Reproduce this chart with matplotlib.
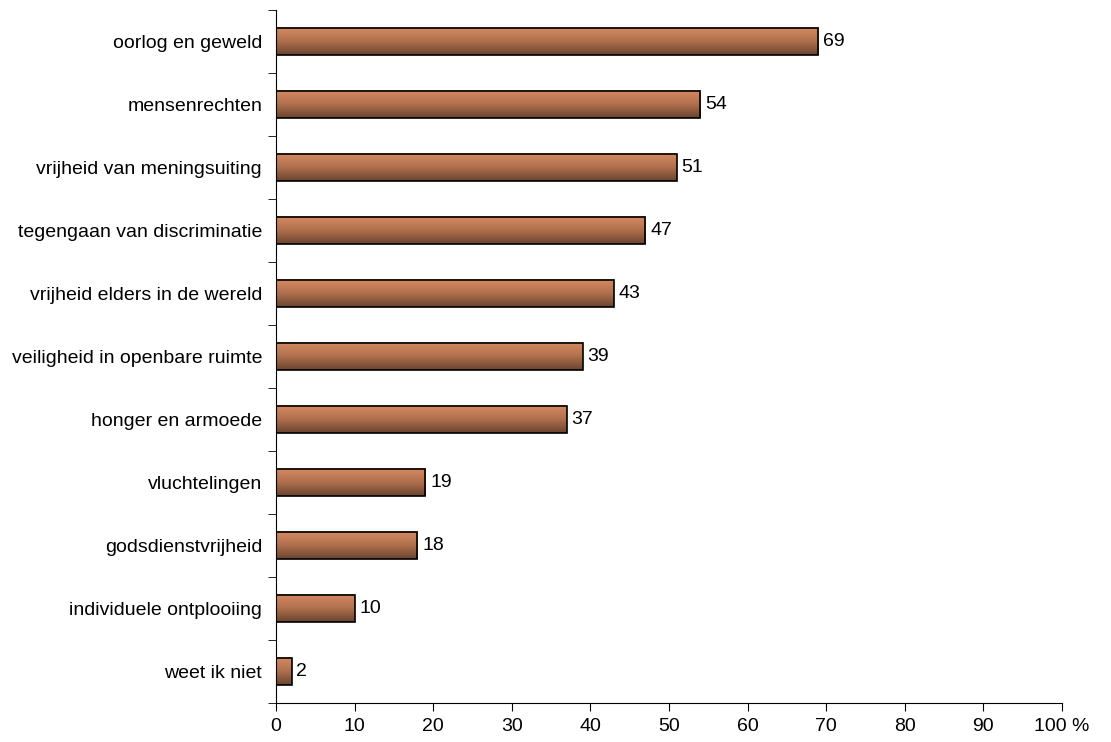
import numpy as np
import matplotlib.pyplot as plt
from matplotlib.colors import LinearSegmentedColormap

# Gegevens (van onder naar boven)
categorieen = ['weet ik niet', 'individuele ontplooiing', 'godsdienstvrijheid',
               'vluchtelingen', 'honger en armoede', 'veiligheid in openbare ruimte',
               'vrijheid elders in de wereld', 'tegengaan van discriminatie',
               'vrijheid van meningsuiting', 'mensenrechten', 'oorlog en geweld']
waarden = [2, 10, 18, 19, 37, 39, 43, 47, 51, 54, 69]
x_ticks = [0, 10, 20, 30, 40, 50, 60, 70, 80, 90, 100]
x_labels = ['0', '10', '20', '30', '40', '50', '60', '70', '80', '90', '100 %']

plt.rcParams['font.family'] = ['Liberation Sans', 'DejaVu Sans']

fig = plt.figure(figsize=(11.11, 7.42), dpi=100)
ax = fig.add_axes([0.2484, 0.0526, 0.7075, 0.934])

y = np.arange(len(categorieen))
bars = ax.barh(y, waarden, height=0.43, color='none', edgecolor='black',
               linewidth=1.2, zorder=3)

# verloop in de balken (licht boven, donker onder)
cmap = LinearSegmentedColormap.from_list('brons', ['#6a4430', '#b0704e', '#d68b63'])
grad = np.linspace(0, 1, 100).reshape(-1, 1)
for b in bars:
    x0, y0 = b.get_x(), b.get_y()
    w, h = b.get_width(), b.get_height()
    ax.imshow(grad, cmap=cmap, aspect='auto', origin='lower',
              extent=[x0, x0 + w, y0, y0 + h], zorder=2)

for yi, v in zip(y, waarden):
    ax.text(v + 0.6, yi, str(v), va='center', ha='left', fontsize=14)

ax.set_xlim(0, 100)
ax.set_ylim(-0.5, len(categorieen) - 0.5)
ax.set_xticks(x_ticks)
ax.set_xticklabels(x_labels, fontsize=14)
ax.set_yticks(y)
ax.set_yticklabels(categorieen, fontsize=14)
ax.set_yticks(np.arange(-0.5, len(categorieen)), minor=True)
ax.tick_params(axis='y', which='major', length=0, pad=10)
ax.tick_params(axis='y', which='minor', length=6, direction='out')
ax.tick_params(axis='x', length=6, direction='out', pad=5)

for s in ['top', 'right']:
    ax.spines[s].set_visible(False)

fig.savefig('out.png', dpi=100)
